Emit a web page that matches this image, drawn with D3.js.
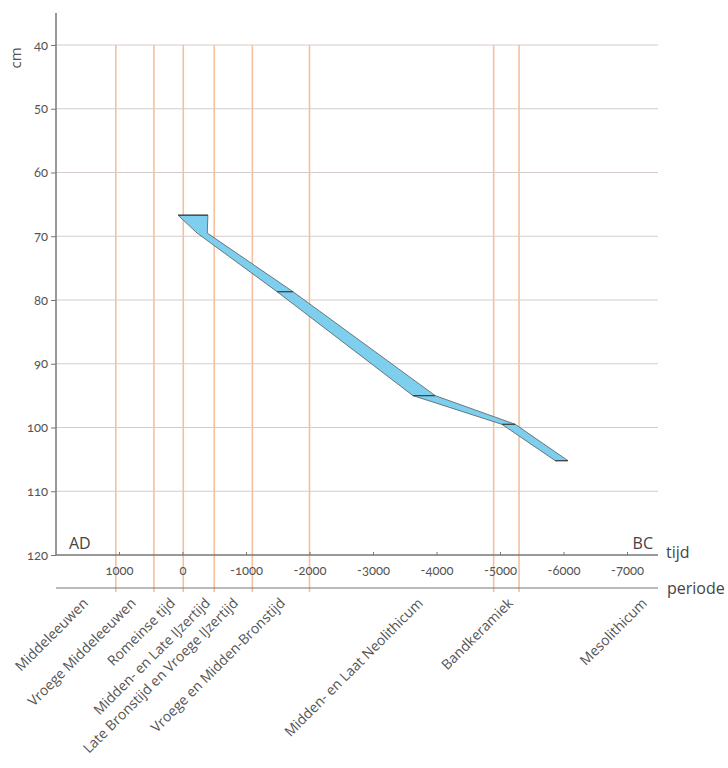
<!DOCTYPE html>
<html>
<head>
<meta charset="utf-8">
<script src="https://cdn.jsdelivr.net/npm/d3@7"></script>
<style>
  body { margin: 0; background: #fff; }
  svg { font-family: "Open Sans", "Noto Sans", sans-serif; }
  .lbl { fill: #555; }
  .num { font-family: Lato, "Open Sans", sans-serif; font-variant-numeric: oldstyle-nums; font-feature-settings: "onum" 1; }
</style>
</head>
<body>
<div class="gv-chart"></div>
<script>
// depth (cm) against age band (years, negative = BC)
var depthCm  = [66.7, 69.5, 78.7, 95.0, 99.5, 105.2];
var youngAge = [70, -230, -1490, -3630, -5030, -5870];
var oldAge   = [-400, -390, -1740, -3980, -5240, -6070];

var yTicks = [40, 50, 60, 70, 80, 90, 100, 110, 120];
var xTicks = [1000, 0, -1000, -2000, -3000, -4000, -5000, -6000, -7000];

// period boundaries (orange lines)
var boundaries = [1050, 450, -12, -500, -1100, -2000, -4900, -5300];

var periodNames = ["Middeleeuwen", "Vroege Middeleeuwen", "Romeinse tijd",
  "Midden- en Late IJzertijd", "Late Bronstijd en Vroege IJzertijd",
  "Vroege en Midden-Bronstijd", "Midden- en Laat Neolithicum",
  "Bandkeramiek", "Mesolithicum"];
var periodLabelYear = [1470, 720, 100, -450, -890, -1630, -3800, -5220, -7330];

var width = 728, height = 768;
var left = 56, right = 658;

var svg = d3.select(".gv-chart").append("svg")
    .attr("width", width).attr("height", height);

var x = d3.scaleLinear().domain([1000, -7000]).range([119, 627]);
var y = d3.scaleLinear().domain([40, 120]).range([45, 555]);
var periodeY = 588;

// horizontal grid
svg.append("g").selectAll("line")
    .data(yTicks.slice(0, -1))
    .enter().append("line")
    .attr("x1", left).attr("x2", right)
    .attr("y1", function(d){ return y(d) }).attr("y2", function(d){ return y(d) })
    .attr("stroke", "#d3cbc9").attr("stroke-width", 1);

// orange period boundaries
svg.append("g").selectAll("line")
    .data(boundaries)
    .enter().append("line")
    .attr("x1", function(d){ return x(d) }).attr("x2", function(d){ return x(d) })
    .attr("y1", y(40)).attr("y2", periodeY + 4)
    .attr("stroke", "#f3c19f").attr("stroke-width", 1.6);

// band
var pts = depthCm.map(function(d, i){ return [x(youngAge[i]), y(d)] })
    .concat(depthCm.map(function(d, i){ return [x(oldAge[i]), y(d)] }).reverse());

svg.append("path")
    .attr("d", d3.line()(pts) + "Z")
    .attr("fill", "#7ecfee")
    .attr("stroke", "#5f6a70")
    .attr("stroke-width", 0.9);

// dark cross-lines at the dated levels (not at the second, it sits inside the fill)
svg.append("g").selectAll("line")
    .data(depthCm.filter(function(d, i){ return i != 1 }))
    .enter().append("line")
    .attr("x1", function(d){ return x(youngAge[depthCm.indexOf(d)]) })
    .attr("x2", function(d){ return x(oldAge[depthCm.indexOf(d)]) })
    .attr("y1", function(d){ return y(d) }).attr("y2", function(d){ return y(d) })
    .attr("stroke", "#444").attr("stroke-width", 1.3);

// y axis
var yAxis = svg.append("g")
    .attr("transform", "translate(" + left + ",0)")
    .call(d3.axisLeft(y).tickValues(yTicks).tickSize(5).tickPadding(3));
yAxis.select(".domain").remove();
yAxis.selectAll(".tick line").attr("stroke", "#777");
yAxis.selectAll(".tick text").attr("class", "lbl num").style("font-size", "13px").style("font-family", null);

svg.append("line")
    .attr("x1", left).attr("x2", left).attr("y1", 13).attr("y2", y(120))
    .attr("stroke", "#777").attr("stroke-width", 1.5);

svg.append("text").attr("class", "lbl")
    .attr("transform", "translate(21,58) rotate(-90)")
    .attr("text-anchor", "middle")
    .style("font-size", "15px")
    .text("cm");

// tijd axis
svg.append("line")
    .attr("x1", left).attr("x2", right).attr("y1", y(120)).attr("y2", y(120))
    .attr("stroke", "#777").attr("stroke-width", 1.5);

var xAxis = svg.append("g")
    .attr("transform", "translate(0," + y(120) + ")")
    .call(d3.axisBottom(x).tickValues(xTicks).tickSize(-3).tickPadding(11)
      .tickFormat(function(d){ return String(d) }));
xAxis.select(".domain").remove();
xAxis.selectAll(".tick line").attr("stroke", "#777");
xAxis.selectAll(".tick text").attr("class", "lbl num").style("font-size", "13px").style("font-family", null);

// periode line
svg.append("line")
    .attr("x1", left).attr("x2", right).attr("y1", periodeY).attr("y2", periodeY)
    .attr("stroke", "#777").attr("stroke-width", 1.2);

svg.append("text").attr("class", "lbl").attr("x", 69).attr("y", 549)
    .style("font-size", "16px").style("fill", "#444").text("AD");
svg.append("text").attr("class", "lbl").attr("x", 653).attr("y", 549)
    .attr("text-anchor", "end")
    .style("font-size", "16px").style("fill", "#444").text("BC");
svg.append("text").attr("class", "lbl").attr("x", 666).attr("y", 558)
    .style("font-size", "16px").style("fill", "#444").text("tijd");
svg.append("text").attr("class", "lbl").attr("x", 667).attr("y", 594)
    .style("font-size", "16px").style("fill", "#444").text("periode");

// period labels
svg.append("g").selectAll("text")
    .data(periodNames)
    .enter().append("text")
    .attr("class", "lbl")
    .attr("text-anchor", "end")
    .attr("transform", function(d, i){ return "translate(" + x(periodLabelYear[i]) + ",604) rotate(-45)" })
    .style("font-size", "14px")
    .text(function(d){ return d });
</script>
</body>
</html>
